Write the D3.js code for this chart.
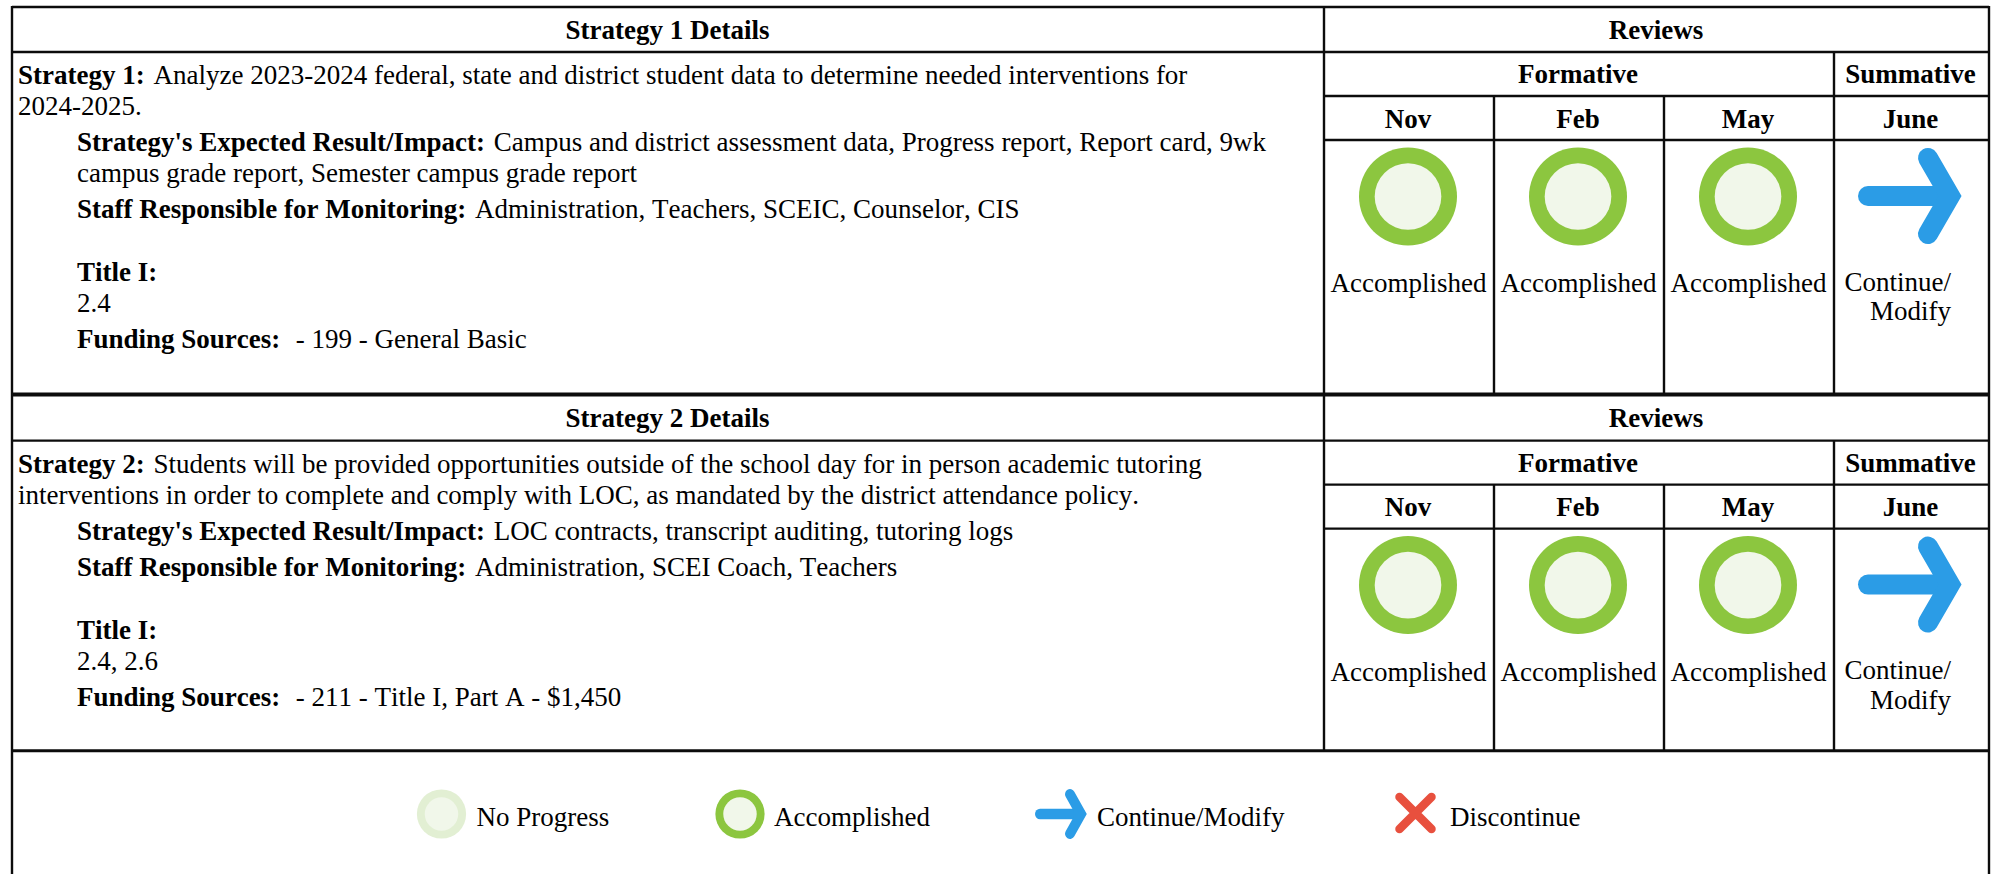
<!DOCTYPE html>
<html lang="en">
<head>
<meta charset="utf-8" />
<title>Strategy Details and Reviews</title>
<script src="https://d3js.org/d3.v7.min.js"></script>
<style>
  html, body { margin: 0; background: #fff; overflow: hidden; }
  svg { display: block; }
  text { font-family: "Liberation Serif", serif; font-size: 27px; font-kerning: none; fill: #000; }
  .b { font-weight: bold; }
  .rule { stroke: #0c0c0c; stroke-width: 2.4; }
</style>
</head>
<body>
<svg width="1997" height="874"></svg>
<script>
// table contents
var strategyHeaders = ["Strategy 1 Details", "Strategy 2 Details"];
var formativeMonths = ["Nov", "Feb", "May"];
var summativeMonths = ["June"];
var statuses = ["Accomplished", "Accomplished", "Accomplished", "Continue"];

// each line: bold part, plain part, indented?, gap before it
var strategy1Lines = [
  ["Strategy 1:", "Analyze 2023-2024 federal, state and district student data to determine needed interventions for", 0, 0],
  ["", "2024-2025.", 0, 31],
  ["Strategy's Expected Result/Impact:", "Campus and district assessment data, Progress report, Report card, 9wk", 1, 36],
  ["", "campus grade report, Semester campus grade report", 1, 31],
  ["Staff Responsible for Monitoring:", "Administration, Teachers, SCEIC, Counselor, CIS", 1, 36],
  ["Title I:", "", 1, 63],
  ["", "2.4", 1, 31],
  ["Funding Sources:", " - 199 - General Basic", 1, 36]
];
var strategy2Lines = [
  ["Strategy 2:", "Students will be provided opportunities outside of the school day for in person academic tutoring", 0, 0],
  ["", "interventions in order to complete and comply with LOC, as mandated by the district attendance policy.", 0, 31],
  ["Strategy's Expected Result/Impact:", "LOC contracts, transcript auditing, tutoring logs", 1, 36],
  ["Staff Responsible for Monitoring:", "Administration, SCEI Coach, Teachers", 1, 36],
  ["Title I:", "", 1, 63],
  ["", "2.4, 2.6", 1, 31],
  ["Funding Sources:", " - 211 - Title I, Part A - $1,450", 1, 36]
];
var legendLabels = ["No Progress", "Accomplished", "Continue/Modify", "Discontinue"];
var legendKinds = ["none", "Accomplished", "Continue", "Discontinue"];

var svg = d3.select("svg");

var left = 12, divider = 1324, summative = 1834, right = 1989;
var rowOffsets = [0, 388.6];

var x = d3.scaleBand().domain(formativeMonths).range([divider, summative]);
var center = function(i) {
  return (i < 3 ? x(formativeMonths[i]) + x.bandwidth() / 2 : (summative + right) / 2) - 1;
};

var green = "#8cc63f", pale = "#f1f7ea", blue = "#2b9ce6", red = "#e8503e";

function ring(g, r, outer, inner) {
  g.append("circle").attr("r", r).attr("fill", outer);
  g.append("circle").attr("r", r * 0.68).attr("fill", inner);
}

function arrow(g) {
  g.append("path").attr("d", "M-42,0H38").attr("stroke", blue).attr("stroke-width", 20)
    .attr("stroke-linecap", "round").attr("fill", "none");
  g.append("path").attr("d", "M18,-38L40,0L18,38").attr("stroke", blue).attr("stroke-width", 20)
    .attr("stroke-linecap", "round").attr("stroke-linejoin", "miter").attr("fill", "none");
}

function cross(g) {
  g.append("path").attr("d", "M-16,-16L16,16M16,-16L-16,16").attr("stroke", red).attr("stroke-width", 8.5)
    .attr("stroke-linecap", "round").attr("fill", "none");
}

function rule(x1, y1, x2, y2, w) {
  var l = svg.append("line").attr("class", "rule")
    .attr("x1", x1).attr("y1", y1).attr("x2", x2).attr("y2", y2);
  if (w) l.style("stroke-width", w);
}

function centered(t, cx, y, cls) {
  svg.append("text").attr("class", cls).attr("x", cx).attr("y", y)
    .attr("text-anchor", "middle").text(t);
}

[strategy1Lines, strategy2Lines].forEach(function(lines, r) {
  var dy = rowOffsets[r];
  var bottom = r == 0 ? 394.5 : 750.7;

  // rules
  rule(left, 52 + dy, right, 52 + dy);
  rule(divider, 96 + dy, right, 96 + dy);
  rule(divider, 140 + dy, right, 140 + dy);
  rule(divider, 7 + dy, divider, bottom);
  rule(summative, 52 + dy, summative, bottom);
  formativeMonths.slice(1).forEach(function(m) {
    rule(x(m), 96 + dy, x(m), bottom);
  });

  // headers
  centered(strategyHeaders[r], (left + divider) / 2 - 0.5, 38.5 + dy, "b");
  centered("Reviews", (divider + right) / 2 - 0.5, 38.5 + dy, "b");
  centered("Formative", (divider + summative) / 2 - 1, 83 + dy, "b");
  centered("Summative", (summative + right) / 2 - 1, 83 + dy, "b");
  formativeMonths.concat(summativeMonths).forEach(function(m, i) {
    centered(m, center(i), 127.5 + dy, "b");
  });

  // details text
  var y = 84 + dy;
  lines.forEach(function(l) {
    y += l[3];
    var t = svg.append("text").attr("x", l[2] ? 77 : 18).attr("y", y).attr("xml:space", "preserve");
    if (l[0]) t.append("tspan").attr("class", "b").text(l[0] + (l[1] ? " " : ""));
    if (l[1]) t.append("tspan").attr("dx", l[0] ? 2 : 0).text(l[1]);
  });

  // review marks
  statuses.forEach(function(s, i) {
    var g = svg.append("g").attr("transform", "translate(" + center(i) + "," + (196.5 + dy) + ")");
    if (s == "Accomplished") {
      ring(g, 49, green, pale);
      centered(s, center(i) + 0.5, 292 + dy);
    } else {
      g.attr("transform", "translate(1910," + (196 + dy) + ")");
      arrow(g);
      svg.append("text").attr("x", 1844.5).attr("y", 290.5 + dy).text("Continue/");
      svg.append("text").attr("x", 1870).attr("y", 320 + dy).text("Modify");
    }
  });
});

// outer frame
rule(left, 7, right, 7);
rule(left, 6, left, 874);
rule(right, 6, right, 874);
rule(left, 394.5, right, 394.5, 4);
rule(left, 750.7, right, 750.7, 3);

// legend
var legendIconX = d3.scaleOrdinal().domain(legendKinds).range([441.5, 740, 1061, 1415.5]);
var legendTextX = d3.scaleOrdinal().domain(legendLabels).range([476.5, 774, 1097, 1450]);

legendKinds.forEach(function(k, i) {
  var g = svg.append("g").attr("transform", "translate(" + legendIconX(k) + ",814)");
  if (k == "none") ring(g, 24.6, "#e2efd3", pale);
  if (k == "Accomplished") ring(g, 24.6, green, pale);
  if (k == "Continue") { g.attr("transform", "translate(" + legendIconX(k) + ",814) scale(0.5,0.52)"); arrow(g); }
  if (k == "Discontinue") { g.attr("transform", "translate(" + legendIconX(k) + ",813)"); cross(g); }
  svg.append("text").attr("x", legendTextX(legendLabels[i])).attr("y", 826).text(legendLabels[i]);
});
</script>
</body>
</html>
